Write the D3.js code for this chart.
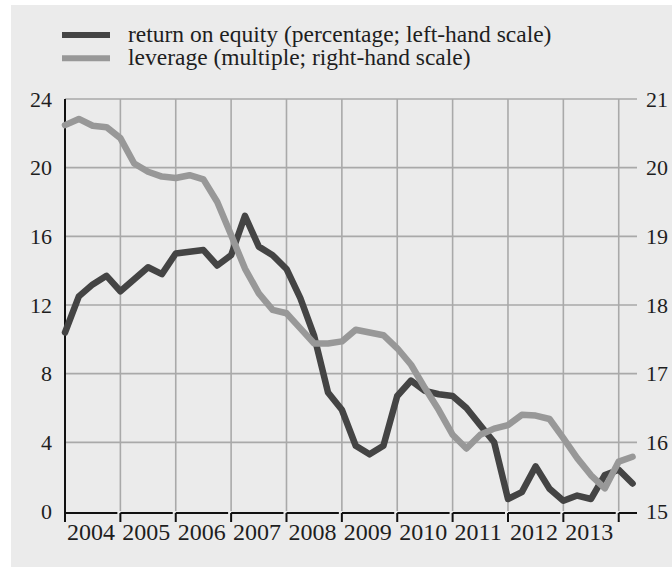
<!DOCTYPE html>
<html>
<head>
<meta charset="utf-8">
<script src="https://cdn.jsdelivr.net/npm/d3@7"></script>
<style>
body { margin: 0; background: #ffffff; }
svg text { font-family: 'Liberation Serif', 'Times New Roman', serif; fill: #1e1e1e; }
</style>
</head>
<body>
<div class="chart-wrapper"></div>
<script>

const years = [2004, 2005, 2006, 2007, 2008, 2009, 2010, 2011, 2012, 2013, 2014];
const quarters = ['Q1', 'Q2', 'Q3', 'Q4'];

const leftTicks = [0, 4, 8, 12, 16, 20, 24];
const rightTicks = [15, 16, 17, 18, 19, 20, 21];

// return on equity, per cent, quarterly from 2004 Q1
const roe = [
	10.4, 12.5, 13.2, 13.7,
	12.8, 13.5, 14.2, 13.8,
	15.0, 15.1, 15.2, 14.3,
	14.9, 17.2, 15.4, 14.9,
	14.1, 12.4, 10.2, 6.9,
	5.9, 3.8, 3.3, 3.8,
	6.7, 7.6, 7.0, 6.8,
	6.7, 6.0, 5.0, 4.0,
	0.7, 1.1, 2.6, 1.3,
	0.6, 0.9, 0.7, 2.1,
	2.4, 1.6
];

// leverage, multiple, quarterly from 2004 Q1
const leverage = [
	20.62, 20.71, 20.61, 20.59,
	20.43, 20.06, 19.94, 19.87,
	19.85, 19.89, 19.83, 19.50,
	19.02, 18.53, 18.17, 17.93,
	17.88, 17.66, 17.44, 17.44,
	17.47, 17.64, 17.60, 17.56,
	17.37, 17.13, 16.79, 16.47,
	16.11, 15.91, 16.11, 16.20,
	16.25, 16.40, 16.39, 16.34,
	16.06, 15.77, 15.52, 15.33,
	15.72, 15.79
];

const legendLabels = [
	'return on equity (percentage; left-hand scale)',
	'leverage (multiple; right-hand scale)'
];

const periods = years.flatMap(y => quarters.map((q, i) => ({ label: y + ' ' + q, t: y + i / 4 })))
	.slice(0, roe.length);

const width = 672;
const height = 567;

const colors = { roe: '#444444', leverage: '#989898', grid: '#a9a9a9', bg: '#ebebeb' };

const x = d3.scaleLinear()
.domain([2004, 2014.33])
.range([65, 637]);

const yLeft = d3.scaleLinear()
.domain([0, 24])
.range([511, 99]);

const yRight = d3.scaleLinear()
.domain([15, 21])
.range([511, 99]);

const svg = d3.select('.chart-wrapper')
.append('svg')
.attr('width', width)
.attr('height', height);

svg.append('rect')
.attr('x', 11)
.attr('y', 5)
.attr('width', width - 11)
.attr('height', height - 5)
.attr('fill', colors.bg);

// grid
svg.append('g')
.selectAll('line')
.data(leftTicks.filter(d => d > 0))
.enter()
.append('line')
.attr('x1', x.range()[0])
.attr('x2', x.range()[1])
.attr('y1', d => yLeft(d))
.attr('y2', d => yLeft(d))
.attr('stroke', colors.grid)
.attr('stroke-width', 1.6);

svg.append('g')
.selectAll('line')
.data(years.slice(1))
.enter()
.append('line')
.attr('x1', d => x(d))
.attr('x2', d => x(d))
.attr('y1', yLeft(24))
.attr('y2', yLeft(0))
.attr('stroke', colors.grid)
.attr('stroke-width', 1.6);

// axes labels
const leftAxis = svg.append('g')
.attr('transform', `translate(${x.range()[0]},0)`)
.call(d3.axisLeft(yLeft).tickValues(leftTicks).tickFormat(d3.format('d')).tickSize(0).tickPadding(13));

const rightAxis = svg.append('g')
.attr('transform', `translate(${x.range()[1]},0)`)
.call(d3.axisRight(yRight).tickValues(rightTicks).tickFormat(d3.format('d')).tickSize(0).tickPadding(9));

[leftAxis, rightAxis].forEach(a => {
	a.select('.domain').remove();
	a.selectAll('text')
	.attr('font-size', '22px')
	.attr('font-family', null)
	.attr('fill', '#1e1e1e');
});

// left axis line
svg.append('line')
.attr('x1', x.range()[0])
.attr('x2', x.range()[0])
.attr('y1', yLeft(24))
.attr('y2', yLeft(0) + 11)
.attr('stroke', '#111')
.attr('stroke-width', 2);

// year brackets along the bottom
const base = yLeft(0) + 2;

const brackets = svg.append('g')
.selectAll('g')
.data(years)
.enter()
.append('g');

brackets.append('line')
.attr('x1', d => x(d))
.attr('x2', d => Math.min(x(d + 1) - 3, x.range()[1]))
.attr('y1', base)
.attr('y2', base)
.attr('stroke', '#111')
.attr('stroke-width', 2);

brackets.append('line')
.attr('x1', d => x(d))
.attr('x2', d => x(d))
.attr('y1', base)
.attr('y2', base + 9)
.attr('stroke', '#111')
.attr('stroke-width', 2);

brackets.filter(d => d < 2014)
.append('text')
.attr('x', d => x(d) + 2)
.attr('y', 540)
.attr('font-size', '24px')
.text(d => d);

// lines
const roeLine = d3.line()
.x((d, i) => x(periods[i].t))
.y(d => yLeft(d));

const levLine = d3.line()
.x((d, i) => x(periods[i].t))
.y(d => yRight(d));

svg.append('path')
.datum(roe)
.attr('d', roeLine)
.attr('fill', 'none')
.attr('stroke', colors.roe)
.attr('stroke-width', 6.5)
.attr('stroke-linejoin', 'round')
.attr('stroke-linecap', 'round');

svg.append('path')
.datum(leverage)
.attr('d', levLine)
.attr('fill', 'none')
.attr('stroke', colors.leverage)
.attr('stroke-width', 6.5)
.attr('stroke-linejoin', 'round')
.attr('stroke-linecap', 'round');

// legend
const legend = svg.append('g')
.selectAll('g')
.data(legendLabels)
.enter()
.append('g')
.attr('transform', (d, i) => `translate(0,${35 + i * 23.3})`);

legend.append('line')
.attr('x1', 62)
.attr('x2', 110)
.attr('stroke', (d, i) => i == 0 ? colors.roe : colors.leverage)
.attr('stroke-width', 6);

legend.append('text')
.attr('x', 128)
.attr('y', 7)
.attr('font-size', '23.5px')
.text(d => d);

</script>
</body>
</html>
